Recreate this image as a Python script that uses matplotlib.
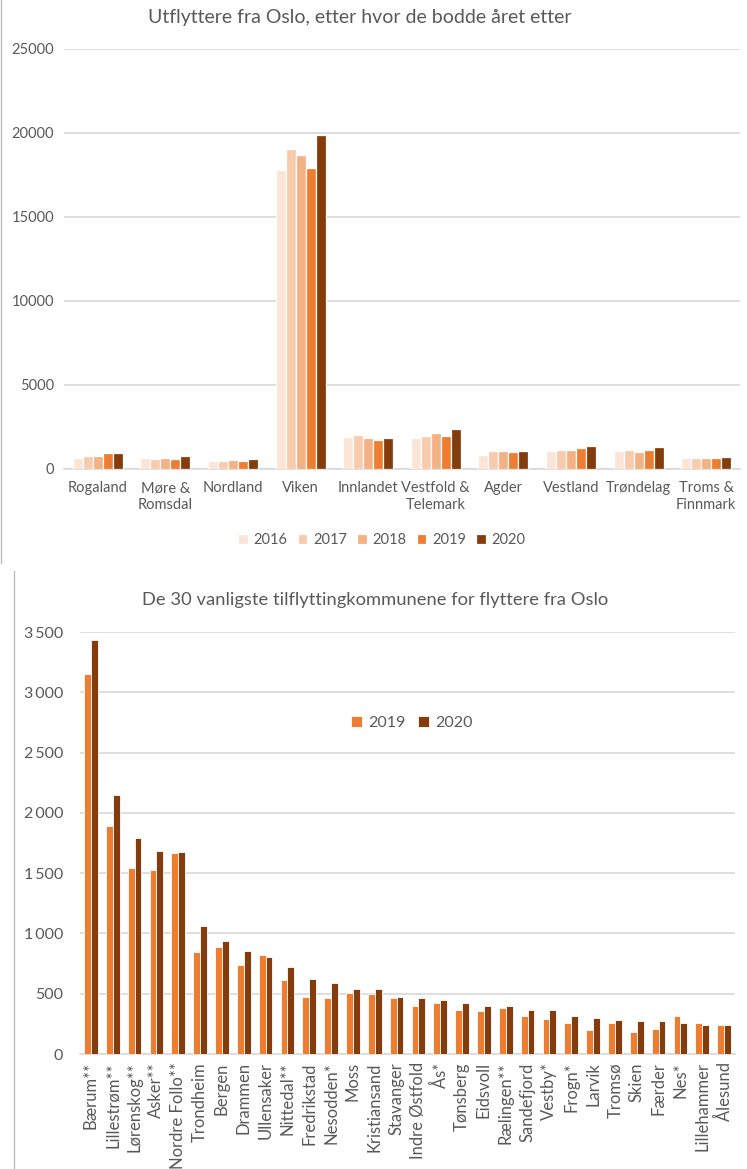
import matplotlib
matplotlib.use("Agg")
import matplotlib.pyplot as plt
import numpy as np
from matplotlib.lines import Line2D
from matplotlib.ticker import FuncFormatter

plt.rcParams['font.family'] = ['Lato', 'DejaVu Sans']

# ---------- data: top chart ----------
regions = ["Rogaland", "Møre &\nRomsdal", "Nordland", "Viken", "Innlandet",
           "Vestfold &\nTelemark", "Agder", "Vestland", "Trøndelag", "Troms &\nFinnmark"]
years = ["2016", "2017", "2018", "2019", "2020"]
v2016 = [680, 650, 480, 17800, 1920, 1830, 850, 1100, 1080, 660]
v2017 = [760, 600, 480, 19020, 2040, 1980, 1080, 1150, 1110, 660]
v2018 = [800, 650, 530, 18680, 1820, 2130, 1080, 1110, 1030, 660]
v2019 = [930, 600, 460, 17930, 1740, 1990, 1040, 1230, 1110, 660]
v2020 = [930, 780, 570, 19890, 1820, 2400, 1080, 1380, 1330, 720]
top_colors = ["#FBE5D6", "#F8CBAD", "#F4B183", "#ED7D31", "#843C0C"]

# ---------- data: bottom chart ----------
kommuner = ["Bærum**", "Lillestrøm**", "Lørenskog**", "Asker**", "Nordre Follo**",
            "Trondheim", "Bergen", "Drammen", "Ullensaker", "Nittedal**",
            "Fredrikstad", "Nesodden*", "Moss", "Kristiansand", "Stavanger",
            "Indre Østfold", "Ås*", "Tønsberg", "Eidsvoll", "Rælingen**",
            "Sandefjord", "Vestby*", "Frogn*", "Larvik", "Tromsø",
            "Skien", "Færder", "Nes*", "Lillehammer", "Ålesund"]
k2019 = [3153, 1890, 1545, 1525, 1665, 845, 885, 742, 824, 616,
         472, 461, 508, 494, 467, 397, 425, 364, 356, 378,
         314, 294, 258, 197, 258, 181, 211, 314, 258, 239]
k2020 = [3435, 2150, 1795, 1686, 1679, 1060, 934, 857, 802, 718,
         619, 586, 536, 536, 472, 461, 447, 425, 397, 397,
         369, 364, 314, 300, 286, 272, 272, 258, 244, 244]
bot_years = ["2019", "2020"]
bot_colors = ["#ED7D31", "#843C0C"]

W, H = 747, 1169
fig = plt.figure(figsize=(W / 100, H / 100), dpi=100)
fig.patch.set_facecolor("white")

def fx(px):
    return px / W

def fy(py):
    return 1 - py / H

txt = "#595959"
grid = "#D9D9D9"

# ---------- top chart ----------
axL, axR, axT, axB = 64, 740, 49, 469
ax1 = fig.add_axes([fx(axL), fy(axB), fx(axR - axL), fy(axT) - fy(axB)])
series = [v2016, v2017, v2018, v2019, v2020]
n = len(regions)
x = np.arange(n)
slot = 0.148
for i, (vals, c, yr) in enumerate(zip(series, top_colors, years)):
    ax1.bar(x + (i - 2) * slot, vals, width=slot, color=c, edgecolor="white",
            linewidth=0.9, label=yr, zorder=3)
ax1.set_xlim(-0.5, n - 0.5)
ax1.set_ylim(0, 25000)
ax1.set_yticks(np.arange(0, 25001, 5000))
ax1.yaxis.grid(True, color=grid, linewidth=1.2, zorder=0)
ax1.set_axisbelow(True)
for s in ["top", "right", "left"]:
    ax1.spines[s].set_visible(False)
ax1.spines["bottom"].set_color(grid)
ax1.spines["bottom"].set_linewidth(1.2)
ax1.tick_params(axis="both", length=0, colors=txt, labelsize=10.5)
ax1.tick_params(axis="y", pad=7)
ax1.tick_params(axis="x", pad=9)
ax1.set_xticks(x)
ax1.set_xticklabels(regions, linespacing=1.2)
fig.text(fx(360), fy(18), "Utflyttere fra Oslo, etter hvor de bodde året etter",
         ha="center", va="center", fontsize=14, color=txt)
ax1.legend(loc="center", bbox_to_anchor=(fx(382), fy(540)),
           bbox_transform=fig.transFigure, ncol=5, frameon=False,
           fontsize=10.5, handlelength=0.65, handleheight=0.65,
           handletextpad=0.4, columnspacing=0.7, labelcolor=txt)

# ---------- bottom chart ----------
bL, bR, bT, bB = 80, 735, 632, 1054
ax2 = fig.add_axes([fx(bL), fy(bB), fx(bR - bL), fy(bT) - fy(bB)])
m = len(kommuner)
xk = np.arange(m)
bw = 0.31
for i, (vals, c, yr) in enumerate(zip([k2019, k2020], bot_colors, bot_years)):
    ax2.bar(xk + (i - 0.5) * bw, vals, width=bw, color=c, edgecolor="white",
            linewidth=0.6, label=yr, zorder=3)
ax2.set_xlim(-0.5, m - 0.5)
ax2.set_ylim(0, 3500)
ax2.set_yticks(np.arange(0, 3501, 500))
ax2.yaxis.set_major_formatter(FuncFormatter(lambda v, p: f"{int(v):,}".replace(",", "\u2009")))
ax2.yaxis.grid(True, color=grid, linewidth=1.2, zorder=0)
ax2.set_axisbelow(True)
for s in ["top", "right", "left"]:
    ax2.spines[s].set_visible(False)
ax2.spines["bottom"].set_color(grid)
ax2.spines["bottom"].set_linewidth(1.2)
ax2.tick_params(axis="both", length=0, colors=txt)
ax2.tick_params(axis="y", labelsize=11.5, pad=12)
ax2.tick_params(axis="x", labelsize=12, pad=6)
ax2.set_xticks(xk)
ax2.set_xticklabels(kommuner, rotation=90, va="top", ha="center")
fig.text(fx(375), fy(600), "De 30 vanligste tilflyttingkommunene for flyttere fra Oslo",
         ha="center", va="center", fontsize=13.2, color=txt)
ax2.legend(loc="center", bbox_to_anchor=(fx(412), fy(723)),
           bbox_transform=fig.transFigure, ncol=2, frameon=False,
           fontsize=11.5, handlelength=0.65, handleheight=0.65,
           handletextpad=0.4, columnspacing=0.8, labelcolor=txt)

# chart frame edges
fig.add_artist(Line2D([fx(1.5), fx(1.5)], [fy(0), fy(563)], color="#BFBFBF", linewidth=1))
fig.add_artist(Line2D([fx(13.5), fx(13.5)], [fy(571), fy(1169)], color="#BFBFBF", linewidth=1))

fig.savefig("out.png", dpi=100, facecolor="white")
